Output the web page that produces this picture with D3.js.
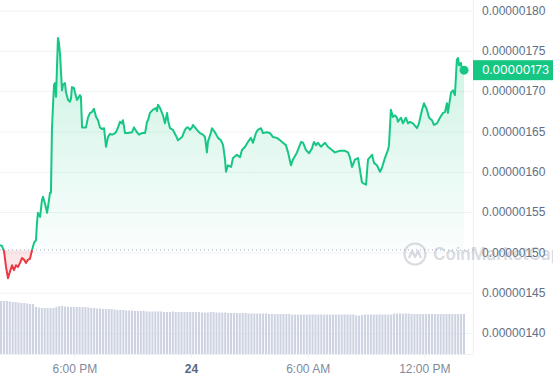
<!DOCTYPE html>
<html>
<head>
<meta charset="utf-8">
<script src="https://cdn.jsdelivr.net/npm/d3@7"></script>
<style>
  body { margin: 0; background: #fff; }
  svg { display: block; font-family: Inter, "Noto Sans", sans-serif; }
</style>
</head>
<body>
<svg id="chart" width="553" height="380"></svg>
<script>
/***************************************************************
    Data
****************************************************************/
// hours relative to midnight of the 24th, price in units of 1e-8
const priceSeries = [
  [-9.82,150.9],[-9.72,150.8],[-9.61,150.1],[-9.51,148.2],[-9.41,146.8],[-9.31,147.6],[-9.20,148.4],[-9.10,147.8],
  [-9.00,148.4],[-8.89,148.2],[-8.79,148.7],[-8.69,149.3],[-8.59,149.1],[-8.48,148.7],[-8.38,149.1],[-8.28,149.2],
  [-8.17,150.3],[-8.07,151.2],[-7.97,151.5],[-7.92,153.6],[-7.87,154.9],[-7.76,154.4],[-7.66,156.5],[-7.61,156.9],
  [-7.51,156.1],[-7.40,154.9],[-7.30,156.5],[-7.25,157.4],[-7.20,157.4],[-7.15,165.2],[-7.09,168.5],[-7.04,170.8],
  [-6.99,171.0],[-6.94,169.3],[-6.89,173.0],[-6.84,176.6],[-6.79,176.0],[-6.73,174.5],[-6.68,172.2],[-6.63,170.1],
  [-6.58,170.8],[-6.48,171.0],[-6.43,169.9],[-6.32,168.9],[-6.22,168.7],[-6.17,169.1],[-6.12,170.5],[-6.02,170.4],
  [-5.96,169.8],[-5.86,168.9],[-5.81,169.1],[-5.71,169.5],[-5.66,169.3],[-5.60,165.5],[-5.50,165.5],[-5.40,165.5],
  [-5.30,166.7],[-5.19,167.3],[-5.09,167.4],[-4.99,167.8],[-4.88,166.8],[-4.78,166.4],[-4.68,165.5],[-4.58,165.3],
  [-4.47,165.4],[-4.37,163.1],[-4.27,164.3],[-4.16,164.7],[-4.06,164.6],[-3.96,164.7],[-3.86,164.9],[-3.75,165.5],
  [-3.65,166.2],[-3.55,166.0],[-3.50,166.4],[-3.39,164.8],[-3.24,164.8],[-3.03,164.9],[-2.93,165.5],[-2.78,164.9],
  [-2.67,164.6],[-2.52,164.8],[-2.36,164.8],[-2.26,166.2],[-2.21,166.4],[-2.11,167.3],[-1.95,167.7],[-1.80,167.9],
  [-1.75,167.5],[-1.70,168.3],[-1.59,167.9],[-1.49,167.3],[-1.44,167.0],[-1.34,166.0],[-1.23,167.3],[-1.18,166.4],
  [-1.08,165.4],[-0.93,165.2],[-0.72,164.2],[-0.67,163.9],[-0.46,164.3],[-0.31,165.2],[-0.21,165.5],[-0.15,165.5],
  [-0.05,165.2],[0.05,165.5],[0.10,165.8],[0.31,165.2],[0.46,164.8],[0.62,164.6],[0.72,164.3],[0.82,162.4],
  [0.87,163.7],[1.03,164.9],[1.08,165.4],[1.23,164.9],[1.39,164.2],[1.54,163.9],[1.65,163.3],[1.75,161.5],
  [1.80,160.0],[1.90,160.8],[2.06,160.6],[2.16,161.7],[2.36,162.1],[2.52,161.8],[2.62,162.7],[2.78,163.1],
  [2.93,163.7],[3.08,164.2],[3.19,163.6],[3.34,164.8],[3.44,165.2],[3.60,165.4],[3.70,164.8],[3.91,164.9],
  [4.06,164.8],[4.22,164.3],[4.42,164.2],[4.58,163.9],[4.73,163.6],[4.88,163.3],[4.99,162.4],[5.14,160.8],
  [5.24,161.5],[5.45,162.4],[5.66,163.7],[5.76,163.6],[5.91,162.7],[6.07,162.3],[6.22,162.9],[6.32,163.7],
  [6.43,163.3],[6.53,163.6],[6.68,163.1],[6.89,163.6],[7.04,163.1],[7.25,162.7],[7.40,162.4],[7.66,162.6],
  [7.92,162.6],[8.07,162.4],[8.17,161.8],[8.28,160.6],[8.43,161.5],[8.59,161.7],[8.69,160.2],[8.79,158.7],
  [8.84,158.6],[9.00,158.4],[9.10,161.5],[9.31,162.1],[9.41,161.1],[9.56,160.8],[9.72,160.0],[9.82,160.5],
  [9.97,161.7],[10.13,162.7],[10.18,163.3],[10.28,167.7],[10.38,166.8],[10.49,167.0],[10.59,166.7],[10.64,166.2],
  [10.80,166.7],[10.90,166.0],[11.05,166.7],[11.16,166.0],[11.26,166.2],[11.41,166.0],[11.62,165.4],[11.72,166.0],
  [11.88,167.7],[11.98,168.5],[12.13,167.7],[12.24,166.7],[12.39,166.4],[12.49,165.8],[12.65,166.0],[12.80,166.7],
  [12.96,167.3],[13.06,167.4],[13.16,168.5],[13.21,167.3],[13.37,169.8],[13.47,170.1],[13.57,169.5],[13.67,173.9],
  [13.73,174.1],[13.78,173.2],[13.88,173.5],[13.93,172.6],[14.04,172.6]
];

// relative volume per bar
const volumes = [
  53,53,53,52.5,52,52,51.5,51,51,50.5,
  50,50,47,46.5,46,46,46,46,46,47,
  48,48,47.5,47,47,47,47,47,47,47,
  46.5,46,46,45.5,45.5,45,45,45,45,44.5,
  44,44,44,43.5,43.5,43.5,43,43,43,43,
  42.5,42.5,42.5,42.5,42.5,42.5,42,42,42,42.5,
  42,42,42,42,42,42,42,42,42,41.5,
  41.5,41.5,42,42,41.5,41.5,41.5,41.5,41,41,
  41,41,41,41,41,40.5,40.5,40.5,40.5,40.5,
  40.5,40.5,40,40,40,40,40,40,40,40,
  39.5,39.5,39.5,39.5,39.5,39.5,39.5,39.5,39.5,39.5,
  39.5,39.5,39.5,39.5,39.5,39.5,39.5,39.5,39.5,39.5,
  39.5,39.5,38.5,38.5,39,39.5,39.5,39.5,39.5,39.5,
  39.5,39.5,39.5,39.5,39.5,40.5,40.5,40.5,40.5,40.5,
  40.5,40,40,40,40,40,40,40,40,40,
  40,40,40,40,40,40,40,40,40,40
];

const yTickValues = [140, 145, 150, 155, 160, 165, 170, 175, 180];
const xTickHours = [-6, 0, 6, 12];
const xTickLabels = ["6:00 PM", "24", "6:00 AM", "12:00 PM"];
const openPrice = 150.3;
const domainHours = [-9.82, 14.5];

/***************************************************************
    Chart
****************************************************************/
const svg = d3.select("#chart");
const plotRight = 473, volTop = 301, volBottom = 354;
const msHour = 1000 * 60 * 60;
const base = new Date(2023, 2, 24);
const toDate = h => new Date(base.getTime() + h * msHour);
const fmt = v => (v * 1e-8).toFixed(8);

const x = d3.scaleTime().domain(domainHours.map(toDate)).range([0, plotRight]);
const y = d3.scaleLinear().domain([140, 180]).range([333, 10.5]);
const data = priceSeries.map(([h, v]) => ({ t: toDate(h), v }));
const yBase = y(openPrice);

const defs = svg.append("defs");
const grad = defs.append("linearGradient").attr("id", "greenFill")
  .attr("gradientUnits", "userSpaceOnUse").attr("x1", 0).attr("x2", 0).attr("y1", 40).attr("y2", yBase);
grad.append("stop").attr("offset", 0).attr("stop-color", "#16c784").attr("stop-opacity", 0.22);
grad.append("stop").attr("offset", 1).attr("stop-color", "#16c784").attr("stop-opacity", 0.02);
defs.append("clipPath").attr("id", "above").append("rect")
  .attr("x", -5).attr("y", 0).attr("width", plotRight + 10).attr("height", yBase);
defs.append("clipPath").attr("id", "below").append("rect")
  .attr("x", -5).attr("y", yBase).attr("width", plotRight + 10).attr("height", 380 - yBase);

// gridlines
svg.append("g")
  .call(d3.axisLeft(y).tickValues(yTickValues).tickSize(-plotRight).tickFormat(""))
  .call(g => g.select(".domain").remove())
  .call(g => g.selectAll("line").attr("stroke", "#eff2f5"));
svg.append("line").attr("x1", plotRight + 0.5).attr("x2", plotRight + 0.5).attr("y1", 0).attr("y2", volBottom)
  .attr("stroke", "#eff2f5");

// volume bars
const band = d3.scaleBand().domain(d3.range(volumes.length)).range([0, 465]).paddingInner(0.3);
const yVol = d3.scaleLinear().domain([0, d3.max(volumes)]).range([volBottom, volTop]);
svg.append("g").selectAll("rect").data(volumes).enter().append("rect")
  .attr("x", (d, i) => band(i)).attr("width", band.bandwidth())
  .attr("y", d => yVol(d)).attr("height", d => volBottom - yVol(d))
  .attr("fill", "#cdd3e0");

// areas
const area = d3.area().x(d => x(d.t)).y0(yBase).y1(d => y(d.v));
svg.append("path").datum(data).attr("d", area).attr("fill", "url(#greenFill)").attr("clip-path", "url(#above)");
svg.append("path").datum(data).attr("d", area).attr("fill", "rgba(234,57,67,0.12)").attr("clip-path", "url(#below)");

// open price dotted line
svg.append("line").attr("x1", 0).attr("x2", plotRight).attr("y1", yBase).attr("y2", yBase)
  .attr("stroke", "#a6b0c3").attr("stroke-width", 1).attr("stroke-dasharray", "1 3");

// price line
const line = d3.line().x(d => x(d.t)).y(d => y(d.v));
svg.append("path").datum(data).attr("d", line).attr("fill", "none").attr("stroke", "#16c784")
  .attr("stroke-width", 2).attr("stroke-linejoin", "round").attr("clip-path", "url(#above)");
svg.append("path").datum(data).attr("d", line).attr("fill", "none").attr("stroke", "#ea3943")
  .attr("stroke-width", 2).attr("stroke-linejoin", "round").attr("clip-path", "url(#below)");

const last = data[data.length - 1];
svg.append("circle").attr("cx", x(last.t)).attr("cy", y(last.v)).attr("r", 4.5).attr("fill", "#16c784");

// bottom axis
svg.append("g").attr("transform", `translate(0,${volBottom})`)
  .call(d3.axisBottom(x).tickValues(xTickHours.map(toDate)).tickSize(4).tickPadding(6)
    .tickFormat((d, i) => xTickLabels[i]))
  .call(g => g.select(".domain").attr("stroke", "#eff2f5").attr("d", `M0,0.5H${plotRight}`))
  .call(g => g.selectAll("line").attr("stroke", "#eff2f5"))
  .call(g => g.selectAll("text").attr("fill", "#808a9d").attr("font-size", 12)
    .attr("font-weight", (d, i) => xTickLabels[i] === "24" ? 700 : 400)
    .attr("fill", (d, i) => xTickLabels[i] === "24" ? "#58667e" : "#808a9d"));

// right axis
svg.append("g").attr("transform", `translate(${plotRight},0)`)
  .call(d3.axisRight(y).tickValues(yTickValues).tickSize(0).tickPadding(9).tickFormat(fmt))
  .call(g => g.select(".domain").remove())
  .call(g => g.selectAll("text").attr("fill", "#616e85").attr("font-size", 12));

// current price tag
const tag = svg.append("g").attr("transform", `translate(${plotRight},${y(last.v)})`);
tag.append("rect").attr("x", 0).attr("y", -10).attr("width", 80).attr("height", 20).attr("fill", "#16c784");
tag.append("text").attr("x", 9).attr("dy", "0.35em").attr("fill", "#fff").attr("font-size", 12)
  .text(fmt(Math.round(last.v)));

// watermark
const wm = svg.append("g").attr("transform", "translate(403,242)").attr("opacity", 0.3);
wm.append("circle").attr("cx", 12).attr("cy", 12).attr("r", 10.5).attr("fill", "none")
  .attr("stroke", "#808a9d").attr("stroke-width", 2.2);
wm.append("path").attr("d", "M6,16 L9,9 L12,15 L15,9 L18,16").attr("fill", "none")
  .attr("stroke", "#808a9d").attr("stroke-width", 2.2).attr("stroke-linejoin", "round");
wm.append("text").attr("x", 30).attr("y", 18).attr("font-size", 17).attr("font-weight", 600)
  .attr("fill", "#808a9d").text("CoinMarketCap");
</script>
</body>
</html>
